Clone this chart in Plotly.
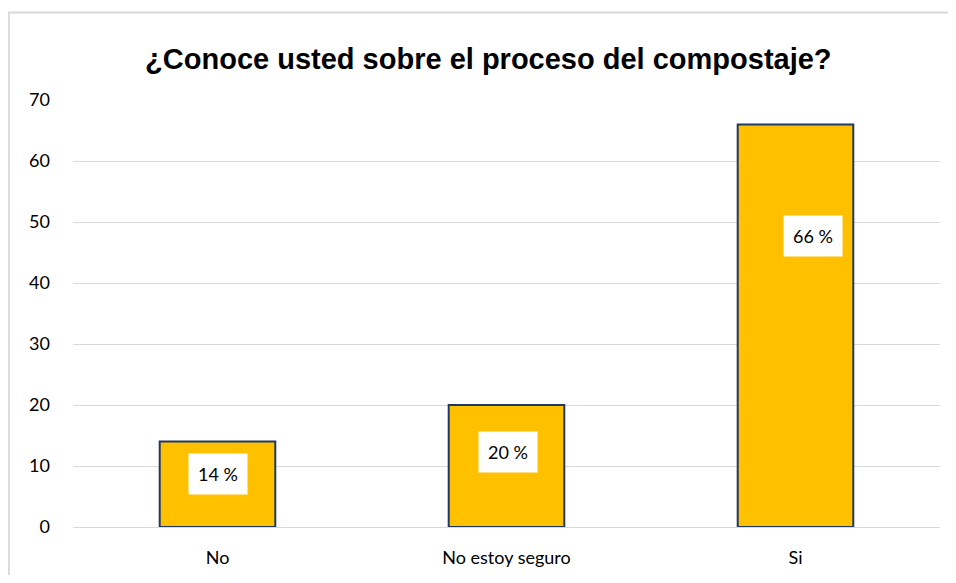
import plotly.graph_objects as go

categories = ["No", "No estoy seguro", "Si"]
values = [14, 20, 66]
label_texts = ["14 %", "20 %", "66 %"]
label_y = [8.7, 12.3, 47.7]
label_xshift = [0, 1, 17]

fig = go.Figure()

fig.add_trace(
    go.Bar(
        x=categories,
        y=values,
        width=0.4,
        marker=dict(color="#FFC000", line=dict(color="#1F3864", width=2)),
        hoverinfo="skip",
    )
)

# data labels sit in white boxes, placed by hand in the original
for cat, txt, ly, xs in zip(categories, label_texts, label_y, label_xshift):
    fig.add_annotation(
        x=cat, y=ly, text=txt, showarrow=False, xshift=xs,
        bgcolor="white", borderpad=9,
        font=dict(family="Lato, Open Sans, sans-serif", size=18, color="#000000"),
    )

# outer chart frame (right and bottom edges fall outside the picture)
fig.add_shape(
    type="rect", xref="paper", yref="paper",
    x0=-0.074, y0=-0.3, x1=1.1, y1=1.205,
    line=dict(color="#D9D9D9", width=2), fillcolor="rgba(0,0,0,0)",
    layer="below",
)

fig.update_layout(
    width=940,
    height=567,
    margin=dict(l=65, r=8, t=92, b=48),
    paper_bgcolor="white",
    plot_bgcolor="white",
    showlegend=False,
    bargap=0.6,
    title=dict(
        text="<b>¿Conoce usted sobre el proceso del compostaje?</b>",
        x=0.511, xanchor="center", y=0.911, yanchor="middle",
        font=dict(family="Liberation Sans, Arial, sans-serif", size=29, color="#000000"),
    ),
)

fig.update_yaxes(
    range=[0, 70],
    dtick=10,
    showgrid=True,
    gridcolor="#D9D9D9",
    gridwidth=1,
    zeroline=False,
    showline=False,
    ticks="",
    ticklabelstandoff=22,
    tickfont=dict(family="Lato, Open Sans, sans-serif", size=18, color="#000000"),
)

fig.update_xaxes(
    showline=True,
    linecolor="#D9D9D9",
    linewidth=1,
    ticks="",
    ticklabelstandoff=14,
    tickfont=dict(family="Lato, Open Sans, sans-serif", size=18, color="#000000"),
)

fig.write_html("out.html")
